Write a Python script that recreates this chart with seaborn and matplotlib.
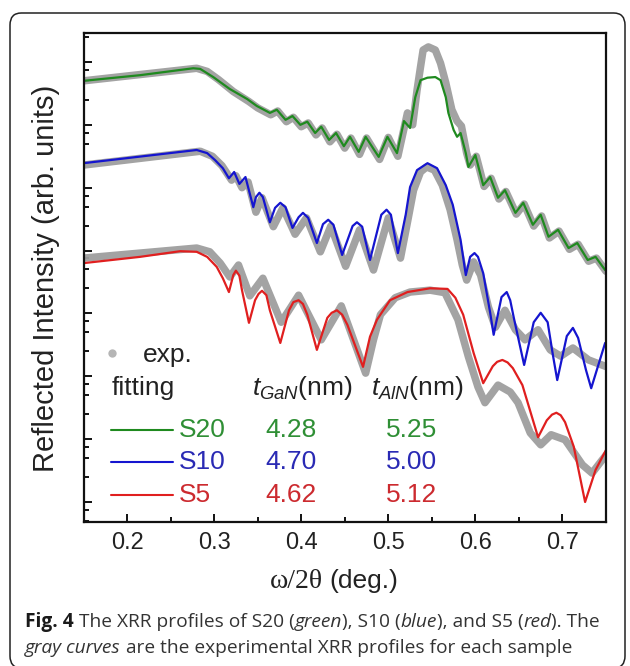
import numpy as np
import matplotlib
matplotlib.use("Agg")
import matplotlib.pyplot as plt
import seaborn as sns
from matplotlib.ticker import LogLocator, NullFormatter, MultipleLocator, FormatStrFormatter
from matplotlib.patches import FancyBboxPatch

# ---------------------------------------------------------------------------
# XRR profiles: omega/2theta (deg.) vs. log10 of reflected intensity (arb. units,
# curves offset vertically for clarity)
# ---------------------------------------------------------------------------

# S20 - simulated fit
s20_fit_x = [0.150, 0.215, 0.276, 0.284, 0.299, 0.318, 0.338, 0.349, 0.364, 0.372,
             0.382, 0.390, 0.399, 0.407, 0.416, 0.423, 0.432, 0.440, 0.449, 0.456,
             0.466, 0.474, 0.489, 0.499, 0.510, 0.518, 0.525, 0.531, 0.537, 0.545,
             0.554, 0.560, 0.566, 0.569, 0.575, 0.579, 0.583, 0.589, 0.592, 0.600,
             0.609, 0.617, 0.626, 0.634, 0.646, 0.655, 0.666, 0.675, 0.684, 0.695,
             0.707, 0.717, 0.729, 0.738, 0.749]
s20_fit_logI = [6.70, 6.79, 6.90, 6.89, 6.76, 6.57, 6.41, 6.30, 6.19, 6.24,
                6.08, 6.14, 6.00, 6.05, 5.87, 5.97, 5.76, 5.87, 5.66, 5.81,
                5.57, 5.81, 5.49, 5.81, 5.55, 6.06, 5.95, 6.44, 6.71, 6.75,
                6.76, 6.71, 6.44, 6.19, 5.92, 5.81, 5.87, 5.55, 5.33, 5.52,
                5.04, 5.17, 4.84, 4.96, 4.60, 4.76, 4.41, 4.57, 4.22, 4.33,
                4.04, 4.12, 3.85, 3.90, 3.69]

# S20 - measured
s20_exp_x = [0.150, 0.215, 0.280, 0.292, 0.305, 0.322, 0.340, 0.350, 0.365, 0.373,
             0.383, 0.391, 0.400, 0.408, 0.417, 0.424, 0.433, 0.441, 0.450, 0.457,
             0.467, 0.475, 0.490, 0.500, 0.511, 0.522, 0.528, 0.533, 0.537, 0.540,
             0.546, 0.554, 0.560, 0.566, 0.573, 0.579, 0.584, 0.590, 0.594, 0.601,
             0.610, 0.618, 0.627, 0.635, 0.647, 0.656, 0.667, 0.676, 0.685, 0.696,
             0.708, 0.718, 0.730, 0.739, 0.750]
s20_exp_logI = [6.70, 6.80, 6.90, 6.85, 6.72, 6.53, 6.37, 6.27, 6.16, 6.22,
                6.05, 6.12, 5.97, 6.03, 5.84, 5.95, 5.73, 5.85, 5.63, 5.79,
                5.53, 5.79, 5.45, 5.80, 5.50, 6.19, 6.00, 6.55, 6.92, 7.19,
                7.24, 7.19, 6.98, 6.67, 6.24, 6.06, 5.98, 5.55, 5.36, 5.50,
                5.02, 5.15, 4.82, 4.94, 4.58, 4.74, 4.39, 4.55, 4.20, 4.31,
                4.02, 4.10, 3.83, 3.88, 3.67]

# S10 - simulated fit
s10_fit_x = [0.150, 0.280, 0.292, 0.301, 0.310, 0.317, 0.323, 0.329, 0.336, 0.345,
             0.348, 0.352, 0.356, 0.364, 0.370, 0.376, 0.382, 0.390, 0.397, 0.402,
             0.408, 0.418, 0.425, 0.431, 0.437, 0.447, 0.459, 0.464, 0.470, 0.479,
             0.492, 0.498, 0.503, 0.511, 0.520, 0.525, 0.533, 0.545, 0.556, 0.566,
             0.574, 0.583, 0.589, 0.594, 0.599, 0.603, 0.609, 0.617, 0.621, 0.630,
             0.636, 0.640, 0.644, 0.656, 0.667, 0.675, 0.683, 0.689, 0.694, 0.705,
             0.712, 0.718, 0.727, 0.733, 0.749]
s10_fit_logI = [5.39, 5.60, 5.55, 5.44, 5.31, 5.15, 5.25, 5.06, 5.17, 4.69,
                4.85, 4.92, 4.85, 4.45, 4.68, 4.76, 4.69, 4.36, 4.53, 4.60,
                4.52, 4.12, 4.42, 4.49, 4.41, 3.93, 4.39, 4.45, 4.38, 3.85,
                4.57, 4.65, 4.57, 3.96, 4.57, 5.01, 5.28, 5.39, 5.31, 5.04,
                4.73, 4.17, 3.61, 3.90, 3.96, 3.90, 3.64, 3.01, 2.66, 3.26,
                3.34, 3.21, 2.94, 2.18, 2.86, 3.01, 2.86, 2.34, 1.94, 2.64,
                2.77, 2.61, 2.10, 1.81, 2.53]

# S10 - measured
s10_exp_x = [0.150, 0.284, 0.298, 0.309, 0.320, 0.325, 0.332, 0.339, 0.348, 0.355,
             0.368, 0.379, 0.393, 0.406, 0.422, 0.434, 0.451, 0.467, 0.483, 0.500,
             0.514, 0.522, 0.529, 0.537, 0.544, 0.553, 0.562, 0.571, 0.579, 0.585,
             0.590, 0.598, 0.606, 0.615, 0.623, 0.634, 0.646, 0.657, 0.672, 0.686,
             0.698, 0.712, 0.730, 0.751]
s10_exp_logI = [5.36, 5.58, 5.50, 5.35, 5.12, 5.19, 5.00, 5.09, 4.61, 4.84,
                4.38, 4.68, 4.26, 4.52, 3.98, 4.39, 3.75, 4.33, 3.69, 4.52,
                3.88, 4.45, 4.96, 5.25, 5.33, 5.28, 5.04, 4.65, 4.17, 3.77,
                3.53, 3.82, 3.61, 3.10, 2.78, 3.05, 2.74, 2.58, 2.74, 2.42,
                2.32, 2.45, 2.26, 2.15]

# S5 - simulated fit
s5_fit_x = [0.150, 0.215, 0.261, 0.280, 0.292, 0.303, 0.310, 0.317, 0.322, 0.325,
            0.329, 0.332, 0.340, 0.347, 0.351, 0.355, 0.360, 0.364, 0.376, 0.386,
            0.391, 0.397, 0.402, 0.407, 0.418, 0.430, 0.435, 0.441, 0.447, 0.453,
            0.471, 0.479, 0.487, 0.502, 0.522, 0.548, 0.568, 0.577, 0.586, 0.598,
            0.609, 0.620, 0.625, 0.631, 0.637, 0.643, 0.654, 0.672, 0.682, 0.688,
            0.693, 0.698, 0.703, 0.713, 0.726, 0.738, 0.752]
s5_fit_logI = [3.80, 3.90, 3.99, 3.98, 3.90, 3.74, 3.56, 3.34, 3.61, 3.68,
               3.60, 3.37, 2.85, 3.21, 3.31, 3.36, 3.29, 3.05, 2.53, 3.05,
               3.18, 3.21, 3.15, 2.98, 2.42, 2.93, 3.01, 3.05, 2.98, 2.82,
               2.15, 2.63, 2.90, 3.21, 3.34, 3.40, 3.39, 3.25, 2.98, 2.37,
               1.89, 2.16, 2.23, 2.26, 2.22, 2.13, 1.86, 1.03, 1.30, 1.39,
               1.42, 1.38, 1.27, 0.88, 0.00, 0.51, 0.88]

# S5 - measured
s5_exp_x = [0.150, 0.215, 0.280, 0.295, 0.307, 0.318, 0.328, 0.341, 0.356, 0.377,
            0.397, 0.423, 0.446, 0.474, 0.483, 0.491, 0.508, 0.525, 0.548, 0.565,
            0.580, 0.592, 0.603, 0.611, 0.626, 0.640, 0.649, 0.663, 0.675, 0.687,
            0.703, 0.723, 0.734, 0.744, 0.752]
s5_exp_logI = [3.88, 3.96, 4.04, 3.98, 3.80, 3.58, 3.77, 3.28, 3.56, 2.86,
               3.29, 2.58, 3.12, 2.05, 2.58, 2.98, 3.25, 3.34, 3.37, 3.33,
               2.90, 2.31, 1.83, 1.58, 1.86, 1.75, 1.58, 1.10, 0.91, 1.07,
               0.99, 0.59, 0.46, 0.64, 0.78]

samples = ["S20", "S10", "S5"]
t_gan = ["4.28", "4.70", "4.62"]
t_aln = ["5.25", "5.00", "5.12"]
x_ticks = [0.2, 0.3, 0.4, 0.5, 0.6, 0.7]

fit_curves = [(s20_fit_x, s20_fit_logI), (s10_fit_x, s10_fit_logI), (s5_fit_x, s5_fit_logI)]
exp_curves = [(s20_exp_x, s20_exp_logI), (s10_exp_x, s10_exp_logI), (s5_exp_x, s5_exp_logI)]

LINE_COLORS = ["#1f8a1f", "#1515cf", "#e01f1f"]
TEXT_COLORS = ["#2f8f35", "#2a2ab4", "#cc2a2f"]
EXP_COLOR = "#9e9e9e"

W, H = 630, 666

sns.set_theme(style="ticks")
plt.rcParams["font.family"] = ["Liberation Sans", "DejaVu Sans"]
plt.rcParams["mathtext.fontset"] = "custom"
plt.rcParams["mathtext.rm"] = "Liberation Sans"
plt.rcParams["mathtext.it"] = "Liberation Sans:italic"

fig = plt.figure(figsize=(W / 100, H / 100), dpi=100)
fig.patch.set_facecolor("white")

ax_l, ax_r, ax_t, ax_b = 83.5, 606.0, 33.0, 522.0
ax = fig.add_axes([ax_l / W, 1 - ax_b / H, (ax_r - ax_l) / W, (ax_b - ax_t) / H])
ax.set_facecolor("white")

# measured profiles: broad gray bands underneath
for xs, ls in exp_curves:
    sns.lineplot(x=xs, y=10 ** np.asarray(ls), ax=ax, color=EXP_COLOR, linewidth=5.4,
                 sort=False, estimator=None, errorbar=None, alpha=0.95,
                 solid_capstyle="round", solid_joinstyle="round")

# fitted profiles on top
for (xs, ls), c in zip(fit_curves, LINE_COLORS):
    sns.lineplot(x=xs, y=10 ** np.asarray(ls), ax=ax, color=c, linewidth=1.6,
                 sort=False, estimator=None, errorbar=None,
                 solid_joinstyle="round")

ax.set_yscale("log")
ax.set_xlim(0.15, 0.75)
ax.set_ylim(10 ** -0.318, 10 ** 7.461)
ax.set_xlabel("")
ax.set_ylabel("")

ax.set_xticks(x_ticks)
ax.xaxis.set_major_formatter(FormatStrFormatter("%.1f"))
ax.xaxis.set_minor_locator(MultipleLocator(0.05))
ax.yaxis.set_major_locator(LogLocator(base=10, numticks=30))
ax.yaxis.set_minor_locator(LogLocator(base=10, subs=[2.5, 5.0, 7.5], numticks=30))
ax.yaxis.set_major_formatter(NullFormatter())
ax.yaxis.set_minor_formatter(NullFormatter())

ax.tick_params(which="both", direction="in", top=False, right=False, width=1.4,
               color="#111111", labelcolor="#222222")
ax.tick_params(which="major", length=6)
ax.tick_params(which="minor", length=3.6)
ax.tick_params(axis="x", labelsize=17, pad=7)
for sp in ax.spines.values():
    sp.set_linewidth(1.6)
    sp.set_color("#111111")


def axfrac(px, py):
    return (px - ax_l) / (ax_r - ax_l), (ax_b - py) / (ax_b - ax_t)


LEG_FS = 19
# legend block drawn inside the axes
gx, gy = axfrac(112, 353)
ax.plot([gx], [gy], "o", transform=ax.transAxes, color="#b5b5b5", ms=6, mec="none")
tx, ty = axfrac(143, 355)
ax.text(tx, ty, "exp.", transform=ax.transAxes, fontsize=LEG_FS, va="center", ha="left", color="#222222")
tx, ty = axfrac(112, 388)
ax.text(tx, ty, "fitting", transform=ax.transAxes, fontsize=LEG_FS, va="center", ha="left", color="#222222")
tx, ty = axfrac(252, 388)
ax.text(tx, ty, r"$t_{GaN}$(nm)", transform=ax.transAxes, fontsize=LEG_FS, va="center", ha="left", color="#222222")
tx, ty = axfrac(371, 388)
ax.text(tx, ty, r"$t_{AlN}$(nm)", transform=ax.transAxes, fontsize=LEG_FS, va="center", ha="left", color="#222222")

row_y = [430, 462, 495]
for name, g, a, lc, tc, py in zip(samples, t_gan, t_aln, LINE_COLORS, TEXT_COLORS, row_y):
    x0, yy = axfrac(111, py)
    x1, _ = axfrac(173, py)
    ax.plot([x0, x1], [yy, yy], transform=ax.transAxes, color=lc, lw=1.5)
    sx, _ = axfrac(179, py)
    ax.text(sx, yy, name, transform=ax.transAxes, fontsize=LEG_FS, va="center", ha="left", color=tc)
    nx, _ = axfrac(291, py)
    ax.text(nx, yy, g, transform=ax.transAxes, fontsize=LEG_FS, va="center", ha="center", color=tc)
    mx, _ = axfrac(412, py)
    ax.text(mx, yy, a, transform=ax.transAxes, fontsize=LEG_FS, va="center", ha="center", color=tc)

# axis titles
fig.text(46 / W, 1 - 278 / H, "Reflected Intensity (arb. units)", rotation=90,
         fontsize=21, va="center", ha="center", color="#222222")
fig.text(323 / W, 1 - 581 / H, "ω/2θ", fontsize=20, va="center", ha="right",
         family=["Liberation Serif", "DejaVu Serif"], color="#222222")
fig.text(329 / W, 1 - 581 / H, "(deg.)", fontsize=19, va="center", ha="left", color="#222222")

# caption below the plot, with mixed bold / italic runs
renderer = fig.canvas.get_renderer()
CAP_FS = 13.8


def caption_line(runs, x_px, y_px):
    x = x_px / W
    for text, style in runs:
        t = fig.text(x, 1 - y_px / H, text, fontsize=CAP_FS,
                     fontweight="bold" if style == "b" else "normal",
                     fontstyle="italic" if style == "i" else "normal",
                     family=["Open Sans", "DejaVu Sans"],
                     color="#1a1a1a" if style == "b" else "#333333",
                     va="center", ha="left")
        x = t.get_window_extent(renderer).x1 / W


caption_line([("Fig. 4", "b"), (" The XRR profiles of S20 (", "n"), ("green", "i"),
              ("), S10 (", "n"), ("blue", "i"), ("), and S5 (", "n"), ("red", "i"),
              ("). The", "n")], 25, 622)
caption_line([("gray curves", "i"), (" are the experimental XRR profiles for each sample", "n")], 25, 648)

# rounded frame around figure and caption
frame = FancyBboxPatch((10 / W, 1 - 668 / H), 615 / W, 655 / H,
                       boxstyle="round,pad=0,rounding_size=0.018",
                       transform=fig.transFigure, fill=False, ec="#222222", lw=1.1)
fig.add_artist(frame)

fig.savefig("out.png", dpi=100, facecolor="white")
